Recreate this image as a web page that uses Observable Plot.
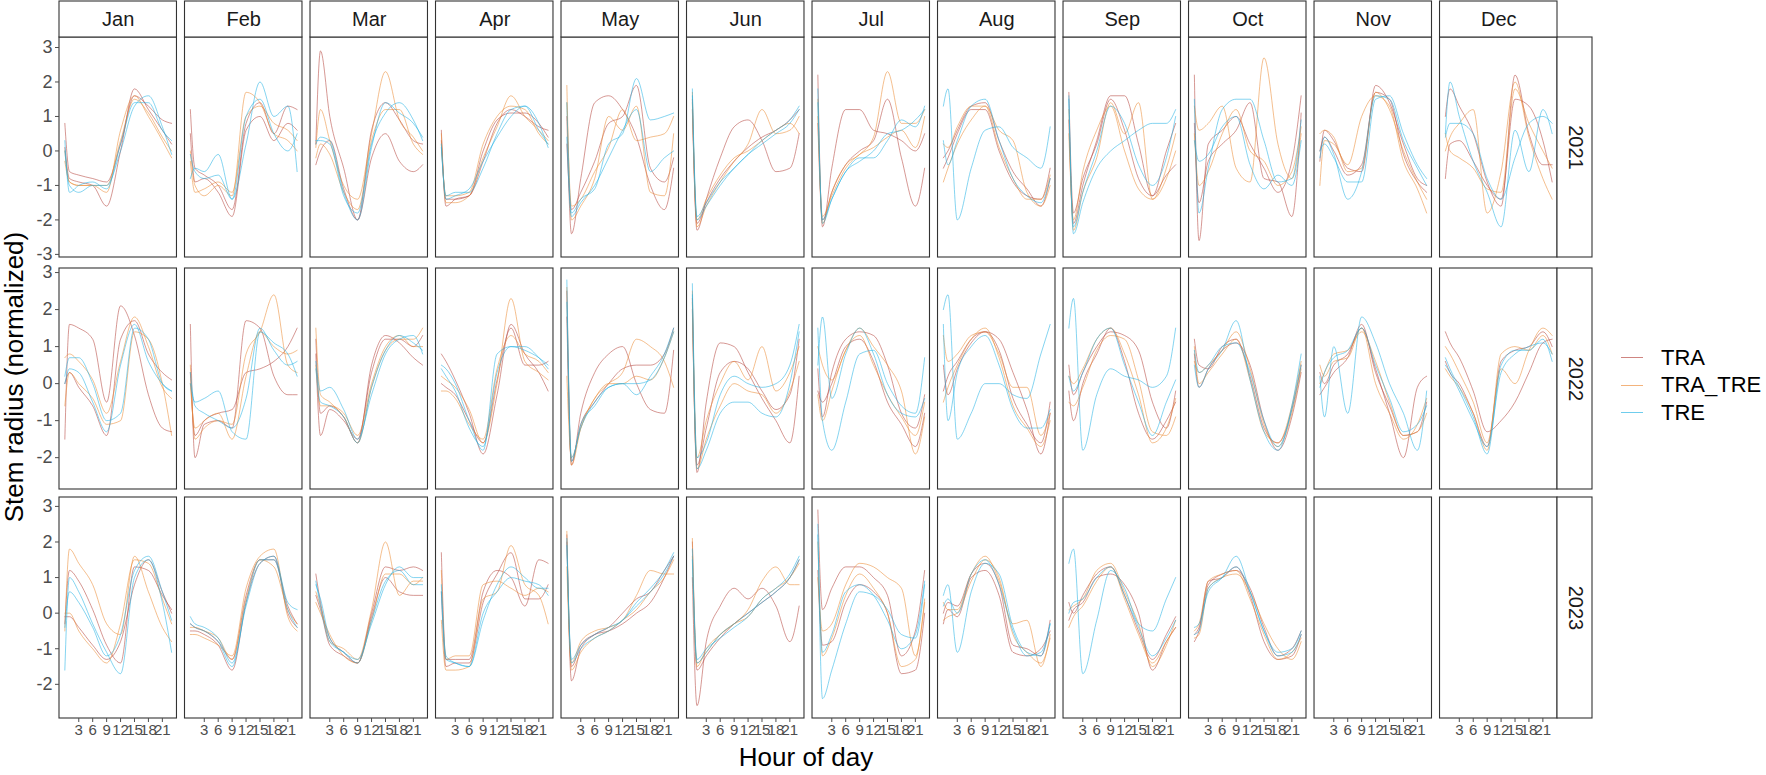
<!DOCTYPE html>
<html>
<head>
<meta charset="utf-8">
<script src="https://cdn.jsdelivr.net/npm/d3@7"></script>
<script src="https://cdn.jsdelivr.net/npm/@observablehq/plot@0.6"></script>
<style>
  body { margin: 0; background: #fff; font-family: "Liberation Sans", Arial, sans-serif; }
  #wrap { position: relative; width: 1766px; height: 775px; overflow: hidden; }
  .row { position: absolute; left: 0; }
  #ytitle { position: absolute; left: 14px; top: 377px; transform: translate(-50%, -50%) rotate(-90deg);
            white-space: nowrap; font-size: 26px; color: #000; }
  #xtitle { position: absolute; left: 806px; top: 757px; transform: translate(-50%, -50%);
            white-space: nowrap; font-size: 26px; color: #000; }
  #legend { position: absolute; left: 1621px; top: 344px; font-size: 22px; color: #000; }
  #legend .item { height: 27.5px; display: flex; align-items: center; }
  #legend .key { width: 22px; height: 0; border-top: 1.2px solid; margin-right: 18px; opacity: 0.65; }
</style>
</head>
<body>
<div id="wrap">
  <div id="r2021" class="row" style="top:0px"></div>
  <div id="r2022" class="row" style="top:258px"></div>
  <div id="r2023" class="row" style="top:490px"></div>
  <div id="ytitle">Stem radius (normalized)</div>
  <div id="xtitle">Hour of day</div>
  <div id="legend"></div>
</div>
<script>
const months = ["Jan", "Feb", "Mar", "Apr", "May", "Jun", "Jul", "Aug", "Sep", "Oct", "Nov", "Dec"]
const years = [2021, 2022, 2023]
const hours = [0, 1, 3, 6, 9, 12, 15, 18, 21, 23]
const groups = ["TRA", "TRA_TRE", "TRE"]
const groupColors = ["#b5443d", "#ec8b35", "#22b2e3"]
// two trees per treatment in every panel
const lineGroups = ["TRA", "TRA", "TRA_TRE", "TRA_TRE", "TRE", "TRE"]
const hourTicks = [3, 6, 9, 12, 15, 18, 21]

// ---- 2021 ----
const jan21 = [
  [0.8, -0.6, -0.7, -0.8, -0.9, 0.2, 1.6, 1.3, 0.9, 0.8],
  [0.1, -0.8, -0.9, -1.0, -1.6, 0.0, 1.8, 1.2, 0.6, 0.2],
  [0.0, -0.9, -1.0, -1.0, -1.2, 0.6, 1.6, 1.0, 0.3, -0.2],
  [-0.3, -0.9, -1.0, -1.0, -1.0, 0.3, 1.5, 1.1, 0.4, 0.0],
  [0.3, -1.2, -1.0, -0.9, -1.1, 0.2, 1.4, 1.4, 0.6, 0.3],
  [0.0, -1.0, -1.2, -1.0, -1.0, 0.0, 1.3, 1.6, 0.7, -0.1]]
const feb21 = [
  [1.2, -0.5, -0.7, -1.0, -1.7, 0.8, 1.4, 0.5, 1.3, 1.2],
  [0.5, -0.9, -0.8, -1.2, -1.9, 0.6, 1.0, 0.3, 0.8, 0.6],
  [0.0, -1.0, -1.3, -1.0, -1.3, 1.7, 1.4, 0.5, 0.3, 0.0],
  [-0.3, -1.2, -1.1, -0.9, -1.2, 1.0, 1.3, 0.8, 0.6, 0.3],
  [-0.8, -0.5, -0.6, -0.1, -1.4, 0.2, 2.0, 1.0, 1.3, -0.6],
  [-0.1, -0.6, -0.8, -0.7, -1.4, 1.0, 1.5, 0.5, 0.0, 0.5]]
const mar21 = [
  [0.2, 2.9, 1.0, -0.5, -2.0, 0.6, 1.4, 0.9, 0.3, 0.2],
  [-0.4, 0.0, 0.3, -1.1, -2.0, -0.2, 0.5, -0.3, -0.6, -0.4],
  [0.1, 1.2, 0.3, -1.0, -1.4, 0.5, 2.3, 0.9, 0.4, 0.0],
  [-0.2, 0.2, -0.1, -1.2, -1.7, 0.3, 1.2, 1.2, 0.2, -0.1],
  [0.2, 0.4, 0.3, -1.2, -2.0, 0.1, 1.4, 1.1, 0.8, 0.4],
  [0.3, 0.3, 0.2, -1.3, -1.8, 0.2, 1.1, 1.4, 0.9, 0.3]]
const apr21 = [
  [0.6, -1.6, -1.4, -1.3, -0.3, 0.8, 1.2, 1.0, 0.7, 0.6],
  [0.3, -1.4, -1.4, -1.3, 0.0, 0.9, 1.1, 1.1, 0.8, 0.4],
  [0.5, -1.5, -1.5, -1.3, -0.2, 0.7, 1.6, 1.0, 0.6, 0.3],
  [0.2, -1.3, -1.3, -1.2, 0.2, 1.0, 1.3, 1.2, 0.5, 0.2],
  [0.1, -1.3, -1.2, -1.2, -0.5, 0.5, 1.2, 1.3, 0.6, 0.2],
  [0.2, -1.4, -1.3, -1.1, -0.3, 0.4, 1.0, 1.3, 0.8, 0.1]]
const may21 = [
  [1.0, -2.4, -0.8, 1.4, 1.6, 1.2, 0.4, -1.0, -1.7, -0.5],
  [0.2, -1.7, -1.2, -0.3, 0.8, 1.0, 1.9, -0.5, -0.9, -0.2],
  [1.9, -2.0, -1.6, -0.8, 1.0, 0.6, 1.3, -1.2, -1.3, 0.5],
  [1.4, -1.6, -1.4, -0.6, 0.1, 1.2, 0.3, 0.4, 0.5, 1.0],
  [1.4, -1.8, -1.4, -1.1, 0.2, 0.5, 2.1, 0.9, 1.0, 1.1],
  [0.4, -1.9, -1.5, -1.0, -0.2, 0.6, 1.2, -0.6, -0.2, 0.0]]
const jun21 = [
  [1.5, -2.3, -1.4, -0.2, 0.7, 0.9, 0.3, -0.6, -0.5, 0.5],
  [1.2, -2.1, -1.5, -0.8, -0.3, 0.1, 0.4, 0.6, 0.9, 1.2],
  [1.7, -2.2, -1.6, -0.9, -0.3, 0.2, 1.2, 0.5, 0.6, 1.0],
  [1.4, -2.0, -1.4, -0.7, -0.2, 0.0, 0.3, 0.6, 0.8, 0.5],
  [1.8, -1.9, -1.5, -0.9, -0.5, -0.1, 0.3, 0.6, 0.9, 1.3],
  [1.6, -2.0, -1.6, -1.0, -0.5, -0.1, 0.2, 0.5, 0.8, 1.2]]
const jul21 = [
  [2.2, -2.2, -0.5, 1.2, 1.2, 0.6, 0.5, 0.3, 0.0, 0.5],
  [0.8, -2.0, -1.2, -0.4, 0.0, 0.3, 1.5, -0.2, -1.6, -0.5],
  [1.5, -2.1, -1.2, -0.4, -0.1, 0.4, 2.3, 0.8, 0.8, 1.2],
  [1.0, -1.9, -1.3, -0.5, -0.1, 0.1, 0.4, 0.6, 0.1, 1.0],
  [1.8, -2.1, -1.4, -0.6, -0.2, -0.2, 0.3, 0.9, 0.7, 1.3],
  [1.4, -2.0, -1.4, -0.6, -0.3, 0.0, 0.5, 0.6, 0.9, 1.2]]
const aug21 = [
  [-0.5, -0.2, 0.5, 1.2, 1.2, 0.0, -0.9, -1.3, -1.4, -0.5],
  [-0.2, 0.0, 0.6, 1.3, 1.4, 0.3, -0.6, -1.1, -1.6, -0.8],
  [-0.9, -0.5, 0.2, 0.9, 1.3, 0.6, 0.3, -1.2, -1.6, -1.0],
  [0.2, 0.1, 0.7, 1.3, 1.3, 0.1, -0.8, -1.4, -1.4, -0.7],
  [1.3, 1.8, -2.0, -0.5, 0.6, 0.7, 0.1, -0.2, -0.5, 0.7],
  [0.3, -0.4, 0.3, 1.3, 1.5, 0.3, -0.8, -1.3, -1.5, -0.8]]
const sep21 = [
  [1.7, -1.8, -0.8, 0.2, 1.5, 0.6, -0.8, -1.3, 0.0, 0.8],
  [0.9, -2.1, -1.0, 0.3, 1.6, 1.6, 0.2, -1.3, -0.7, -0.4],
  [1.2, -2.3, -1.2, -0.2, 1.4, 0.5, 1.4, -1.4, -0.8, 0.0],
  [0.5, -2.0, -0.6, 0.6, 1.3, 0.0, -1.1, -1.4, -0.5, 0.5],
  [1.5, -2.4, -1.5, -0.5, 0.0, 0.3, 0.6, 0.8, 0.8, 1.2],
  [1.6, -2.2, -1.2, 0.0, 1.3, 0.8, -0.4, -1.0, -0.2, 1.0]]
const oct21 = [
  [2.2, -2.6, 0.2, 0.6, 1.0, 0.2, -0.5, -1.2, -0.3, 1.6],
  [0.8, -1.5, -0.3, 0.2, 0.6, 1.4, -0.8, -0.9, -1.9, 1.1],
  [1.3, 0.6, 0.8, 1.3, -0.5, -0.9, 2.7, 0.2, -0.8, 0.5],
  [0.5, -1.0, -0.6, 0.5, 1.2, 0.0, -0.3, -1.0, -0.6, 0.7],
  [1.5, -1.8, -0.5, 1.2, 1.5, 1.5, 0.3, -0.9, -0.8, 0.9],
  [0.3, -0.3, -0.1, 0.7, 1.0, -0.4, -1.1, -0.7, -1.0, 0.3]]
const nov21 = [
  [-0.3, 0.6, 0.3, -0.5, -0.6, 1.9, 1.4, 0.2, -0.8, -1.0],
  [0.0, 0.4, 0.0, -0.7, -0.4, 1.7, 1.5, -0.1, -0.9, -1.2],
  [-1.0, 0.3, 0.2, -0.4, 1.0, 1.6, 1.3, -0.3, -1.1, -1.8],
  [0.5, 0.6, 0.4, -0.6, -0.5, 1.7, 1.2, 0.0, -0.9, -1.4],
  [0.0, 0.2, -0.2, -0.9, -0.9, 1.5, 1.6, 0.5, -0.4, -0.8],
  [-0.2, 0.4, -0.1, -1.4, -0.6, 1.6, 1.5, 0.3, -0.5, -1.0]]
const dec21 = [
  [1.0, 1.8, 1.3, 0.5, -0.9, -1.6, 2.2, 0.5, -0.4, -0.4],
  [-0.8, 0.2, 0.3, -0.3, -1.0, -1.4, 1.5, 1.3, 0.3, -0.9],
  [0.0, 0.4, 0.8, 1.2, -1.8, -0.6, 2.0, 0.4, -0.8, -1.4],
  [0.5, 0.0, -0.2, -0.5, -1.1, -1.2, 1.8, 0.8, 0.0, -0.5],
  [0.5, 2.0, 1.0, -0.3, -1.2, -2.2, 0.6, -0.6, 1.2, 0.5],
  [0.4, 0.8, 0.8, 0.5, -0.8, -1.4, -0.2, 0.8, 1.0, 0.8]]

// ---- 2022 ----
const jan22 = [
  [-1.5, 1.6, 1.5, 1.2, -0.5, 2.1, 1.3, -0.3, -1.2, -1.3],
  [0.0, 0.3, -0.1, -0.6, -1.4, 1.2, 1.7, 0.8, 0.3, 0.1],
  [0.7, 0.8, 0.6, 0.1, -0.8, 0.6, 1.8, 1.0, -0.1, -0.4],
  [-0.6, 0.3, 0.0, -0.4, -1.1, -1.0, 1.4, 1.2, 0.0, -1.4],
  [0.2, 0.7, 0.7, 0.0, -1.0, -0.8, 1.5, 1.2, 0.0, -0.2],
  [0.0, 0.4, 0.3, -0.5, -1.3, 0.5, 1.6, 0.6, 0.0, -0.2]]
const feb22 = [
  [1.6, -2.0, -1.1, -1.0, -1.2, 1.7, 1.5, 0.2, -0.3, -0.3],
  [0.3, -1.4, -1.0, -0.8, -0.7, 0.3, 0.4, 0.6, 1.0, 1.5],
  [0.5, -1.5, -1.2, -1.0, -1.1, 0.8, 1.4, 2.4, 0.5, 0.3],
  [0.0, -1.2, -1.0, -0.8, -1.5, 0.2, 1.4, 1.0, 0.8, 0.9],
  [0.0, -0.5, -0.4, -0.2, -1.3, -1.5, 1.4, 1.1, 0.8, 0.2],
  [0.3, -0.6, -0.8, -1.0, -1.2, -0.4, 1.5, 0.9, 0.5, 0.6]]
const mar22 = [
  [1.2, -0.8, -0.6, -0.9, -1.6, 0.5, 1.3, 1.1, 0.7, 0.5],
  [0.8, -1.4, -0.7, -1.0, -1.5, 0.3, 1.2, 1.2, 1.0, 1.3],
  [1.5, -0.3, -0.5, -0.9, -1.6, -0.1, 0.9, 1.2, 1.2, 1.5],
  [0.5, -0.6, -0.6, -0.8, -1.4, 0.0, 1.0, 1.3, 1.0, 1.0],
  [0.6, -0.2, -0.1, -0.7, -1.5, -0.3, 0.8, 1.2, 1.3, 0.8],
  [0.4, -0.5, -0.6, -0.9, -1.6, -0.1, 0.9, 1.3, 1.1, 0.9]]
const apr22 = [
  [0.8, 0.6, 0.1, -0.8, -1.9, -0.3, 1.6, 0.8, 0.3, -0.2],
  [0.0, -0.1, -0.3, -1.0, -1.6, 0.1, 1.5, 0.5, 0.5, 0.6],
  [0.2, 0.1, -0.1, -0.7, -1.6, 0.0, 2.3, 0.6, 0.3, 0.1],
  [-0.2, -0.2, -0.4, -1.1, -1.5, 0.4, 1.3, 0.8, 0.6, 0.3],
  [0.5, 0.4, 0.0, -1.0, -1.8, 0.8, 1.0, 0.9, 0.7, 0.5],
  [0.4, 0.2, -0.2, -1.2, -1.7, 0.3, 1.0, 1.0, 0.7, 0.4]]
const may22 = [
  [2.5, -2.2, -0.8, 0.3, 0.8, 1.0, 0.0, -0.7, -0.8, 0.9],
  [1.8, -2.1, -1.1, -0.5, 0.0, 0.4, 0.5, 0.5, 0.8, 1.5],
  [0.2, -2.0, -1.2, -0.4, 0.0, 0.3, 1.2, 1.0, 0.6, -0.1],
  [2.6, -2.2, -1.2, -0.4, 0.0, 0.0, 0.2, 0.1, 0.7, 1.4],
  [2.8, -2.0, -1.2, -0.5, -0.1, 0.0, -0.3, 0.2, 0.8, 1.5],
  [2.2, -2.1, -1.1, -0.6, -0.1, 0.0, 0.0, 0.1, 0.7, 1.4]]
const jun22 = [
  [2.3, -2.4, -0.5, 1.1, 1.0, 0.3, -0.4, -1.0, -1.6, 0.2],
  [2.0, -2.2, -1.2, 0.3, 0.6, 0.4, -0.2, -0.7, -0.3, 1.2],
  [2.5, -2.0, -1.0, 0.0, 0.6, 0.1, 1.0, -0.2, 0.3, 1.0],
  [2.2, -2.3, -1.5, -0.6, 0.0, -0.2, -0.3, -0.8, -0.2, 0.6],
  [2.7, -2.0, -1.6, -0.3, 0.2, 0.0, -0.1, 0.0, 0.5, 1.6],
  [2.4, -2.3, -1.8, -0.8, -0.5, -0.5, -0.8, -0.9, 0.0, 1.4]]
const jul22 = [
  [0.4, -0.9, 0.3, 1.2, 1.4, 1.3, 0.5, -0.8, -1.2, -0.3],
  [-0.2, -0.5, 0.0, 1.0, 1.2, 0.6, -0.5, -1.1, -1.7, -0.8],
  [1.0, 0.5, 0.1, 0.9, 1.5, 1.0, 0.5, -0.2, -1.9, -0.9],
  [-0.3, -1.0, -0.2, 0.9, 1.3, 0.5, -0.3, -0.9, -1.4, -0.5],
  [1.5, -1.0, -1.8, -0.5, 0.8, 0.9, 0.0, -0.6, -0.8, 0.7],
  [0.5, 1.8, -0.4, 0.8, 1.5, 0.8, -0.3, -0.8, -0.9, -0.4]]
const aug22 = [
  [-0.2, 0.2, 0.6, 1.2, 1.4, 0.9, -0.4, -1.1, -1.6, -0.5],
  [0.5, -0.3, 0.4, 1.1, 1.4, 1.2, 0.3, -0.7, -1.9, -0.8],
  [1.3, 0.6, 0.8, 1.3, 1.4, 0.8, -0.1, -0.1, -1.4, -0.8],
  [-0.5, -0.1, 0.5, 1.2, 1.5, 0.7, -0.6, -1.2, -1.7, -1.0],
  [2.0, 2.4, -1.5, -0.8, 0.0, 0.0, -0.3, -0.4, 0.8, 1.6],
  [1.6, -1.0, 0.3, 1.0, 1.3, 0.5, -0.7, -1.2, -1.2, -0.7]]
const sep22 = [
  [0.5, -0.3, 0.3, 1.0, 1.4, 1.3, 0.9, -0.5, -1.2, -0.2],
  [-0.2, -1.0, 0.0, 0.8, 1.5, 0.6, -0.8, -1.5, -1.0, -0.5],
  [0.2, 0.0, 0.4, 1.2, 1.5, 0.8, -0.3, -1.6, -1.2, -0.4],
  [-0.5, -0.6, -0.1, 0.9, 1.3, 1.2, 0.1, -1.3, -1.4, -0.9],
  [1.5, 2.3, -1.8, -0.3, 0.4, 0.2, 0.1, -0.1, 0.2, 1.5],
  [0.2, -0.2, 0.3, 1.2, 1.5, 0.5, -0.5, -1.4, -0.5, 0.1]]
const oct22 = [
  [0.8, -0.1, 0.4, 0.9, 1.1, 0.5, -1.0, -1.8, -0.9, 0.3],
  [1.2, 0.5, 0.4, 1.0, 1.2, 0.2, -1.2, -1.6, -0.7, 0.5],
  [0.6, 0.3, 0.5, 0.9, 1.4, 0.4, -1.1, -1.7, -0.8, 0.4],
  [1.0, 0.0, 0.3, 0.8, 1.2, 0.1, -1.3, -1.6, -0.6, 0.6],
  [0.5, -0.1, 0.4, 0.9, 1.7, 0.1, -1.3, -1.8, -0.6, 0.8],
  [0.9, 0.3, 0.5, 1.0, 1.1, 0.3, -1.0, -1.7, -0.7, 0.5]]
const nov22 = [
  [0.3, 0.0, 0.5, 0.8, 1.5, 0.4, -0.8, -2.0, -0.1, 0.2],
  [-0.3, -0.1, 0.3, 0.7, 1.6, 0.3, -0.6, -1.4, -1.3, -0.5],
  [0.0, 0.3, 0.8, 0.9, 1.4, 0.6, -0.5, -1.4, -1.3, -0.8],
  [0.5, 0.2, 0.6, 0.7, 1.5, 0.0, -0.8, -1.5, -1.1, -0.4],
  [0.2, -0.9, 1.0, -0.8, 1.8, 1.1, 0.0, -0.8, -1.8, -0.2],
  [-0.1, 0.3, 0.7, 0.9, 1.5, 0.5, -0.4, -1.3, -1.1, -0.6]]
const dec22 = [
  [1.4, 1.1, 0.7, -0.2, -1.3, -1.0, -0.5, 0.3, 1.1, 1.2],
  [0.6, 0.3, 0.0, -0.8, -1.7, 0.6, 0.9, 1.0, 1.4, 1.0],
  [1.0, 0.8, 0.3, -0.5, -1.6, 0.4, 0.0, 0.9, 1.5, 1.3],
  [0.4, 0.2, -0.1, -0.8, -1.8, 0.8, 1.0, 0.9, 1.3, 0.8],
  [0.7, 0.4, -0.1, -0.9, -1.9, 0.5, 0.9, 0.9, 1.2, 0.6],
  [0.5, 0.3, -0.2, -1.0, -1.7, 0.3, 0.8, 1.0, 1.1, 0.8]]

// ---- 2023 (no Nov / Dec yet) ----
const jan23 = [
  [-0.3, 1.2, 0.9, 0.1, -0.9, -1.4, 1.3, 1.2, 0.5, 0.1],
  [-0.1, -0.1, -0.4, -0.9, -1.3, -0.8, 0.8, 1.5, 0.6, 0.0],
  [-0.5, 1.8, 1.4, 0.8, -0.3, -0.6, 1.6, 0.6, -0.4, -0.8],
  [0.0, 0.0, -0.5, -1.0, -1.4, -0.3, 1.5, 1.4, 0.4, -0.3],
  [-1.6, 1.0, 0.6, -0.3, -1.1, -1.7, 1.0, 1.5, 0.3, -1.1],
  [-0.4, 0.6, 0.3, -0.4, -1.2, -0.6, 1.2, 1.6, 0.6, -0.2]]
const feb23 = [
  [-0.3, -0.4, -0.5, -0.8, -1.3, 0.5, 1.5, 1.5, 0.2, -0.3],
  [-0.5, -0.5, -0.6, -0.9, -1.6, 0.3, 1.4, 1.6, 0.0, -0.4],
  [-0.6, -0.6, -0.7, -0.9, -1.2, 0.7, 1.6, 1.8, -0.1, -0.5],
  [-0.4, -0.4, -0.5, -0.7, -1.3, 0.4, 1.5, 1.3, 0.1, -0.3],
  [-0.1, -0.3, -0.4, -0.7, -1.4, 0.2, 1.4, 1.6, 0.3, 0.1],
  [-0.3, -0.4, -0.5, -0.8, -1.5, 0.3, 1.5, 1.5, 0.1, -0.4]]
const mar23 = [
  [1.1, 0.3, -0.7, -1.1, -1.4, 0.0, 1.3, 1.2, 1.3, 1.2],
  [0.5, 0.1, -0.9, -1.2, -1.4, -0.1, 1.0, 0.6, 0.5, 0.5],
  [0.6, 0.2, -0.8, -1.0, -1.3, 0.1, 2.0, 0.5, 0.9, 0.9],
  [0.3, 0.0, -0.6, -1.2, -1.4, -0.2, 1.1, 1.1, 0.8, 1.0],
  [0.8, 0.4, -0.7, -1.1, -1.3, -0.3, 0.8, 1.3, 1.0, 1.0],
  [0.9, 0.2, -0.8, -1.1, -1.4, -0.2, 0.9, 1.2, 0.8, 0.8]]
const apr23 = [
  [1.7, -1.3, -1.3, -1.3, 0.6, 1.2, 1.0, 0.2, 1.5, 1.4],
  [0.6, -1.5, -1.4, -1.4, 0.3, 1.1, 1.7, 0.4, 0.4, 0.8],
  [-0.2, -1.6, -1.6, -1.5, 0.4, 0.6, 1.9, 0.8, 0.5, -0.3],
  [1.2, -1.3, -1.2, -1.2, 0.8, 0.9, 0.7, 0.5, 0.7, 0.6],
  [0.8, -1.2, -1.4, -1.5, -0.2, 0.8, 1.3, 1.0, 0.7, 0.7],
  [0.6, -1.3, -1.4, -1.5, 0.0, 0.6, 1.0, 0.9, 0.8, 0.5]]
const may23 = [
  [2.2, -1.9, -1.0, -0.6, -0.4, 0.0, 0.4, 0.6, 1.2, 1.6],
  [2.0, -1.5, -0.9, -0.6, -0.5, -0.3, 0.0, 0.3, 1.0, 1.6],
  [1.3, -1.4, -0.8, -0.5, -0.4, -0.2, 0.5, 1.2, 1.1, 1.1],
  [2.3, -1.6, -1.1, -0.7, -0.5, -0.2, 0.1, 0.6, 1.0, 1.5],
  [2.1, -1.4, -1.0, -0.7, -0.5, -0.2, 0.2, 0.6, 1.1, 1.6],
  [1.9, -1.3, -0.9, -0.6, -0.4, -0.2, 0.3, 0.7, 1.2, 1.7]]
const jun23 = [
  [1.0, -2.6, -0.8, 0.2, 0.7, 0.4, 0.7, 0.2, -0.8, 0.2],
  [2.0, -1.6, -1.2, -0.7, -0.3, 0.0, 0.3, 0.6, 1.0, 1.5],
  [1.6, -1.5, -1.0, -0.6, -0.3, 0.1, 0.9, 1.3, 0.8, 0.8],
  [2.1, -1.4, -1.1, -0.6, -0.3, -0.1, 0.4, 0.7, 1.0, 1.4],
  [1.8, -1.3, -1.0, -0.7, -0.4, -0.1, 0.4, 0.7, 1.1, 1.6],
  [1.5, -1.4, -1.1, -0.6, -0.3, 0.0, 0.3, 0.6, 1.0, 1.5]]
const jul23 = [
  [2.9, 0.1, 0.7, 1.3, 1.3, 1.0, 0.5, -1.2, -0.5, 1.2],
  [1.2, -0.9, -0.8, 0.3, 0.8, 0.6, 0.0, -1.7, -1.6, 0.0],
  [1.0, -0.5, -0.3, 0.8, 1.4, 1.3, 1.0, 0.7, -1.2, 0.3],
  [2.0, -1.2, -0.7, 0.5, 1.1, 0.7, 0.0, -1.5, -1.3, 0.4],
  [2.5, -2.4, -1.6, -0.3, 0.6, 0.5, 0.1, -0.6, -0.7, 0.8],
  [2.2, -1.1, -0.6, 0.6, 0.8, 0.5, -0.2, -1.0, -0.6, 0.9]]
const aug23 = [
  [0.0, 0.3, 0.2, 1.1, 1.4, 0.8, -0.9, -1.0, -1.2, -0.2],
  [-0.3, 0.1, -0.1, 1.0, 1.2, 0.5, -1.1, -1.2, -1.0, -0.5],
  [0.3, 0.1, 0.1, 1.1, 1.6, 0.9, -0.3, -0.2, -1.5, -0.6],
  [-0.2, -0.1, 0.0, 0.9, 1.5, 1.0, -0.6, -1.1, -1.4, -0.7],
  [0.5, 0.8, -1.1, 0.6, 1.4, 1.1, -0.4, -1.1, -1.2, -0.3],
  [0.2, 0.4, 0.0, 1.1, 1.5, 0.8, -0.5, -1.2, -1.1, -0.3]]
const sep23 = [
  [0.3, 0.0, 0.5, 1.1, 1.3, 0.5, -0.5, -1.3, -0.6, -0.1],
  [-0.2, 0.1, 0.3, 1.0, 1.1, 0.8, 0.0, -1.6, -0.8, -0.4],
  [0.1, 0.2, 0.4, 1.2, 1.4, 0.6, -0.3, -1.5, -0.9, -0.2],
  [-0.4, -0.1, 0.2, 0.9, 1.3, 0.4, -0.6, -1.4, -0.8, -0.4],
  [1.4, 1.8, -1.7, -0.2, 1.2, 0.7, -0.3, -0.5, 0.4, 1.0],
  [0.0, 0.3, 0.4, 1.0, 1.3, 0.5, -0.4, -1.2, -0.7, -0.2]]
const oct23 = [
  [-0.8, -0.5, 0.9, 1.0, 1.3, 0.5, -0.8, -1.3, -1.2, -0.6],
  [-0.6, -0.4, 0.8, 1.1, 1.2, 0.7, -0.4, -1.2, -1.0, -0.5],
  [-0.7, -0.6, 0.7, 1.0, 1.1, 0.6, -0.3, -1.0, -1.3, -0.8],
  [-0.5, -0.3, 0.9, 1.1, 1.2, 0.4, -0.6, -1.3, -1.1, -0.7],
  [-0.4, -0.3, 0.6, 1.0, 1.6, 0.6, -0.5, -1.1, -1.0, -0.5],
  [-0.6, -0.5, 0.7, 1.0, 1.3, 0.6, -0.5, -1.2, -1.1, -0.6]]

const panels2021 = [jan21, feb21, mar21, apr21, may21, jun21, jul21, aug21, sep21, oct21, nov21, dec21]
const panels2022 = [jan22, feb22, mar22, apr22, may22, jun22, jul22, aug22, sep22, oct22, nov22, dec22]
const panels2023 = [jan23, feb23, mar23, apr23, may23, jun23, jul23, aug23, sep23, oct23]

function toRows(panels) {
  const out = []
  panels.forEach((lines, mi) => {
    lines.forEach((vals, li) => {
      vals.forEach((v, hi) => {
        out.push({month: months[mi], hour: hours[hi], value: v, id: months[mi] + "-" + li, group: lineGroups[li]})
      })
    })
  })
  return out
}

const xDomain = [-1.15, 24.15]
const xMid = (xDomain[0] + xDomain[1]) / 2

function drawRow(year, panels, opt) {
  const data = toRows(panels)
  const yDom = opt.yDomain
  const marks = [
    // panel borders (one per month, so empty months still get a box)
    Plot.rect(months, {fx: d => d, x1: xDomain[0], x2: xDomain[1], y1: yDom[0], y2: yDom[1],
      fill: "none", stroke: "#333", strokeWidth: 1.1}),
    Plot.line(data, {fx: "month", x: "hour", y: "value", z: "id", stroke: "group",
      strokeWidth: 0.9, strokeOpacity: 0.62, curve: "monotone-x"}),
    Plot.axisY({ticks: opt.yTicks, tickFormat: d => String(d), tickSize: 4, tickPadding: 3,
      fontSize: 18, color: "#4d4d4d", label: null, facetAnchor: "left"}),
    // year strip on the right
    Plot.rect([year], {fx: () => "Dec", x1: xDomain[1], x2: xDomain[1], y1: yDom[0], y2: yDom[1],
      insetRight: -35, fill: "white", stroke: "#333", strokeWidth: 1.1}),
    Plot.text([year], {fx: () => "Dec", x: xDomain[1], y: (yDom[0] + yDom[1]) / 2, dx: 17.5,
      rotate: 90, text: d => String(d), fontSize: 20, fill: "#1a1a1a"})
  ]
  if (opt.top) {
    marks.push(
      Plot.rect(months, {fx: d => d, x1: xDomain[0], x2: xDomain[1], y1: yDom[1], y2: yDom[1],
        insetTop: -36, fill: "white", stroke: "#333", strokeWidth: 1.1}),
      Plot.text(months, {fx: d => d, x: xMid, y: yDom[1], dy: -18, text: d => d,
        fontSize: 20, fill: "#1a1a1a"})
    )
  }
  if (opt.bottom) {
    marks.push(Plot.axisX({ticks: hourTicks, tickFormat: d => String(d), tickSize: 4, tickPadding: 2,
      fontSize: 15, color: "#4d4d4d", label: null, facetAnchor: "bottom"}))
  }
  const chart = Plot.plot({
    width: 1600,
    height: opt.height,
    marginLeft: 59,
    marginRight: 43,
    marginTop: opt.marginTop,
    marginBottom: opt.marginBottom,
    style: {fontFamily: "'Liberation Sans', Arial, sans-serif", background: "transparent", overflow: "visible"},
    fx: {domain: months, paddingInner: 0.064, paddingOuter: 0, round: false, axis: null, label: null},
    x: {domain: xDomain, axis: null},
    y: {domain: yDom, axis: null},
    color: {domain: groups, range: groupColors},
    marks
  })
  d3.select("#r" + year).append(() => chart)
}

drawRow(2021, panels2021, {yDomain: [-3.09, 3.29], yTicks: [-3, -2, -1, 0, 1, 2, 3],
  height: 258, marginTop: 37, marginBottom: 1, top: true})
drawRow(2022, panels2022, {yDomain: [-2.86, 3.11], yTicks: [-2, -1, 0, 1, 2, 3],
  height: 232, marginTop: 10, marginBottom: 1})
drawRow(2023, panels2023, {yDomain: [-2.96, 3.25], yTicks: [-2, -1, 0, 1, 2, 3],
  height: 285, marginTop: 7, marginBottom: 57, bottom: true})

// legend with line keys
const legend = d3.select("#legend")
groups.forEach((g, i) => {
  const item = legend.append("div").attr("class", "item")
  item.append("span").attr("class", "key").style("border-top-color", groupColors[i])
  item.append("span").text(g)
})
</script>
</body>
</html>
